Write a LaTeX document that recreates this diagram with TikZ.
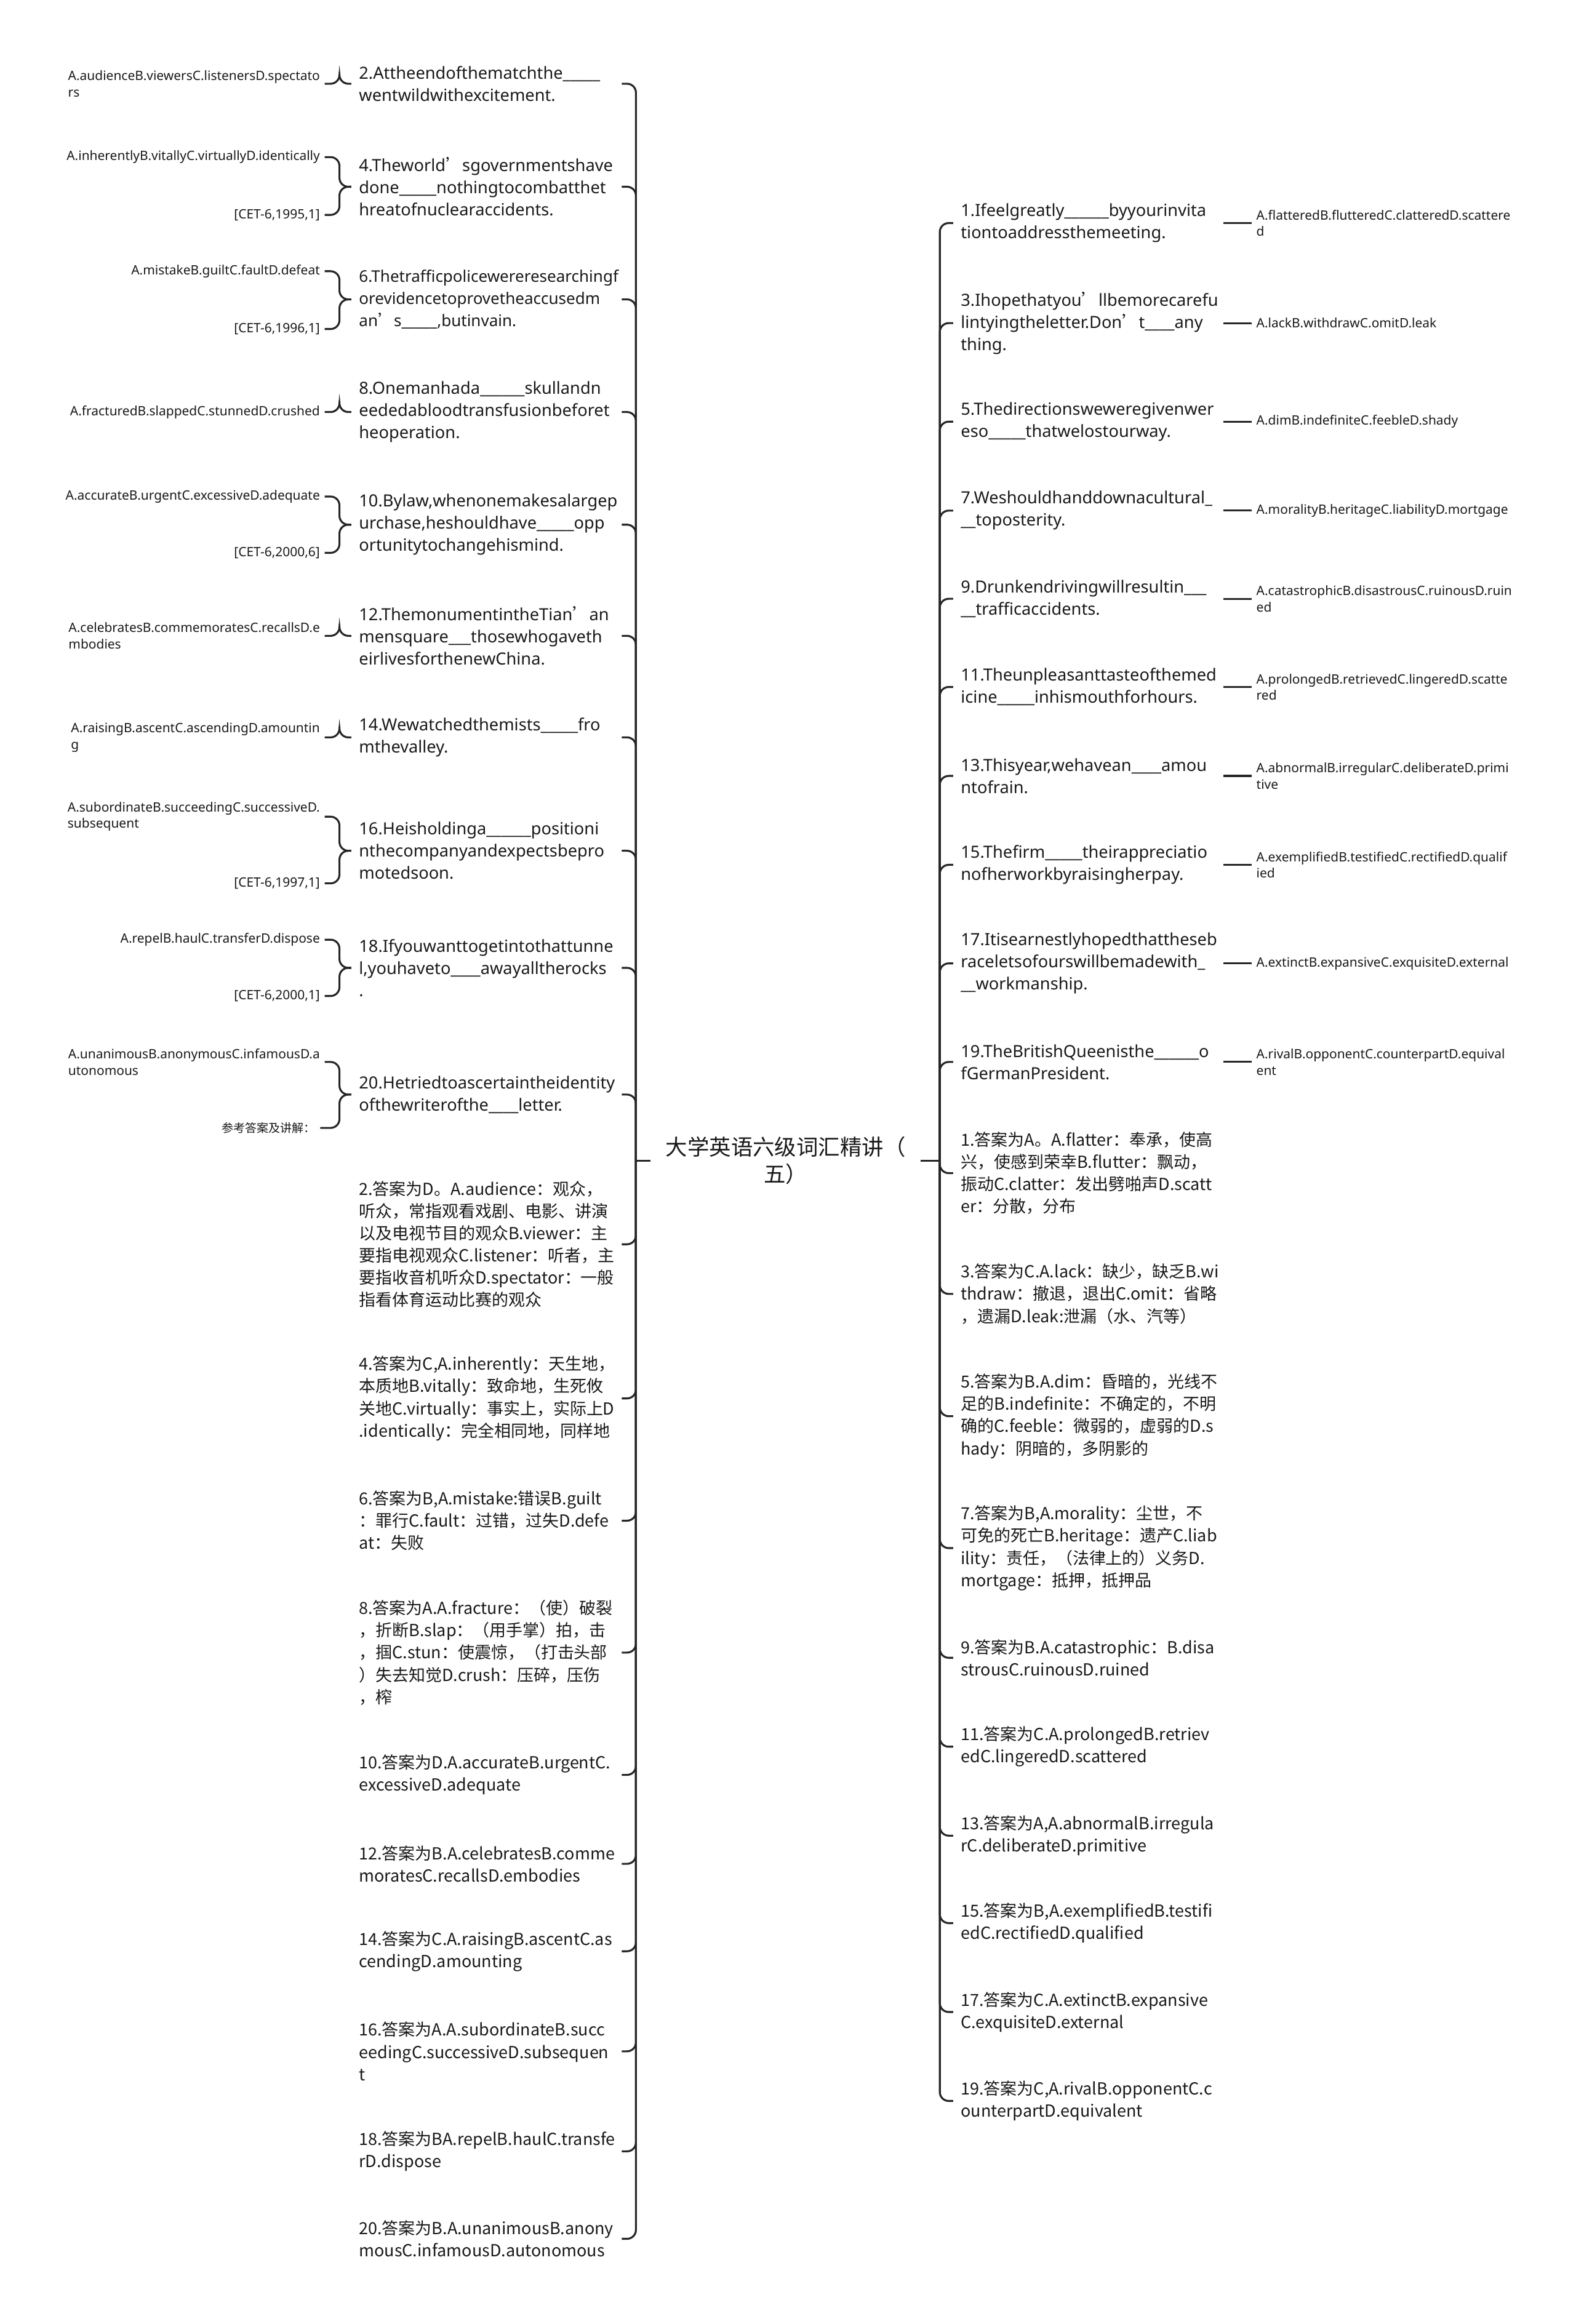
\documentclass[tikz,border=0pt]{standalone}
\usepackage{fontspec}
\setmainfont{Noto Sans CJK SC}
\newfontfamily\latinfont{Noto Sans}
\newfontfamily\cjkfont{Noto Sans CJK SC}
\usetikzlibrary{positioning}
\hyphenpenalty=10000
\exhyphenpenalty=10000
\newcommand\ap{{\cjkfont ’}}

\tikzset{
  branch/.style={draw=black!85, line width=1.3pt, rounded corners=6pt},
  ques/.style={anchor=west, inner xsep=5pt, inner ysep=1pt, text width=172pt, align=left, text=black!90, font=\latinfont\fontsize{11.3}{15}\selectfont},
  ans/.style={ques, font=\fontsize{11.2}{15}\selectfont},
  opt/.style={inner xsep=3pt, inner ysep=1pt, align=left, text=black!90, font=\latinfont\fontsize{8.7}{11}\selectfont},
  root/.style={inner xsep=10pt, align=center, text=black!90, font=\fontsize{14.7}{18.5}\selectfont},
}

\begin{document}
\begin{tikzpicture}[x=1pt, y=1pt]
      \fill [white] (0, 0) rectangle (1063, -1568);
      \useasboundingbox (0, 0) rectangle (1063, -1568);

      \node [root] (root) at (530, -783) {大学英语六级词汇精讲（\\五）};
      \coordinate (lt) at (429, -783);
      \coordinate (rt) at (634, -783);

      \node [ques] (q2) at (237, -56.5) {2.Attheendofthematchthe\_\_\_\_\_\\wentwildwithexcitement.};
      \node [ques] (q4) at (237, -126) {4.Theworld\ap sgovernmentshave\\done\_\_\_\_\_nothingtocombatthet\\hreatofnuclearaccidents.};
      \node [ques, font=\latinfont\fontsize{10.8}{15}\selectfont] (q6) at (237, -202) {6.Thetrafficpolicewereresearchingf\\orevidencetoprovetheaccusedm\\an\ap s\_\_\_\_\_,butinvain.};
      \node [ques] (q8) at (237, -278) {8.Onemanhada\_\_\_\_\_\_skullandn\\eededabloodtransfusionbeforet\\heoperation.};
      \node [ques] (q10) at (237, -354) {10.Bylaw,whenonemakesalargep\\urchase,heshouldhave\_\_\_\_\_opp\\ortunitytochangehismind.};
      \node [ques] (q12) at (237, -429) {12.ThemonumentintheTian\ap an\\mensquare\_\_\_thosewhogaveth\\eirlivesforthenewChina.};
      \node [ques] (q14) at (237, -497.5) {14.Wewatchedthemists\_\_\_\_\_fro\\mthevalley.};
      \node [ques] (q16) at (237, -574) {16.Heisholdinga\_\_\_\_\_\_positioni\\nthecompanyandexpectsbepro\\motedsoon.};
      \node [ques] (q18) at (237, -653) {18.Ifyouwanttogetintothattunne\\l,youhaveto\_\_\_\_awayalltherocks\\.};
      \node [ques] (q20) at (237, -738.5) {20.Hetriedtoascertaintheidentity\\ofthewriterofthe\_\_\_\_letter.};

      \node [opt, left=18pt of q2] (o2) {A.audienceB.viewersC.listenersD.spectato\\rs};
      \node [opt, anchor=east] (o4) at (219, -106) {A.inherentlyB.vitallyC.virtuallyD.identically};
      \node [opt, anchor=east] (c4) at (219, -145) {[CET-6,1995,1]};
      \node [opt, anchor=east] (o6) at (219, -183) {A.mistakeB.guiltC.faultD.defeat};
      \node [opt, anchor=east] (c6) at (219, -222) {[CET-6,1996,1]};
      \node [opt, left=18pt of q8] (o8) {A.fracturedB.slappedC.stunnedD.crushed};
      \node [opt, anchor=east] (o10) at (219, -335) {A.accurateB.urgentC.excessiveD.adequate};
      \node [opt, anchor=east] (c10) at (219, -373) {[CET-6,2000,6]};
      \node [opt, left=18pt of q12] (o12) {A.celebratesB.commemoratesC.recallsD.e\\mbodies};
      \node [opt, left=18pt of q14] (o14) {A.raisingB.ascentC.ascendingD.amountin\\g};
      \node [opt, anchor=east] (o16) at (219, -551) {A.subordinateB.succeedingC.successiveD.\\subsequent};
      \node [opt, anchor=east] (c16) at (219, -596) {[CET-6,1997,1]};
      \node [opt, anchor=east] (o18) at (219, -634) {A.repelB.haulC.transferD.dispose};
      \node [opt, anchor=east] (c18) at (219, -672) {[CET-6,2000,1]};
      \node [opt, anchor=east] (o20) at (219, -716.5) {A.unanimousB.anonymousC.infamousD.a\\utonomous};
      \node [opt, anchor=east, font=\fontsize{7.9}{11}\selectfont] (c20) at (216, -761) {参考答案及讲解：};

      \node [ans] (a2) at (237, -839.5) {2.答案为D。A.audience：观众，\\听众，常指观看戏剧、电影、讲演\\以及电视节目的观众B.viewer：主\\要指电视观众C.listener：听者，主\\要指收音机听众D.spectator：一般\\指看体育运动比赛的观众};
      \node [ans] (a4) at (237, -943.5) {4.答案为C,A.inherently：天生地，\\本质地B.vitally：致命地，生死攸\\关地C.virtually：事实上，实际上D\\.identically：完全相同地，同样地};
      \node [ans] (a6) at (237, -1026) {6.答案为B,A.mistake:错误B.guilt\\：罪行C.fault：过错，过失D.defe\\at：失败};
      \node [ans] (a8) at (237, -1115) {8.答案为A.A.fracture：（使）破裂\\，折断B.slap：（用手掌）拍，击\\，掴C.stun：使震惊，（打击头部\\）失去知觉D.crush：压碎，压伤\\，榨};
      \node [ans] (a10) at (237, -1197.5) {10.答案为D.A.accurateB.urgentC.\\excessiveD.adequate};
      \node [ans] (a12) at (237, -1257.5) {12.答案为B.A.celebratesB.comme\\moratesC.recallsD.embodies};
      \node [ans] (a14) at (237, -1316.5) {14.答案为C.A.raisingB.ascentC.as\\cendingD.amounting};
      \node [ans] (a16) at (237, -1384) {16.答案为A.A.subordinateB.succ\\eedingC.successiveD.subsequen\\t};
      \node [ans] (a18) at (237, -1451.5) {18.答案为BA.repelB.haulC.transfe\\rD.dispose};
      \node [ans] (a20) at (237, -1510.5) {20.答案为B.A.unanimousB.anony\\mousC.infamousD.autonomous};

      \node [ques] (r1) at (643, -150.5) {1.Ifeelgreatly\_\_\_\_\_\_byyourinvita\\tiontoaddressthemeeting.};
      \node [ques] (r3) at (643, -218) {3.Ihopethatyou\ap llbemorecarefu\\lintyingtheletter.Don\ap t\_\_\_\_any\\thing.};
      \node [ques] (r5) at (643, -284.5) {5.Thedirectionsweweregivenwer\\eso\_\_\_\_\_thatwelostourway.};
      \node [ques] (r7) at (643, -344.5) {7.Weshouldhanddownacultural\_\\\_\_toposterity.};
      \node [ques] (r9) at (643, -404) {9.Drunkendrivingwillresultin\_\_\_\\\_\_trafficaccidents.};
      \node [ques] (r11) at (643, -463.5) {11.Theunpleasanttasteofthemed\\icine\_\_\_\_\_inhismouthforhours.};
      \node [ques] (r13) at (643, -523.5) {13.Thisyear,wehavean\_\_\_\_amou\\ntofrain.};
      \node [ques] (r15) at (643, -583.5) {15.Thefirm\_\_\_\_\_theirappreciatio\\nofherworkbyraisingherpay.};
      \node [ques] (r17) at (643, -650) {17.Itisearnestlyhopedthattheseb\\raceletsofourswillbemadewith\_\\\_\_workmanship.};
      \node [ques] (r19) at (643, -716.5) {19.TheBritishQueenisthe\_\_\_\_\_\_o\\fGermanPresident.};

      \node [opt, right=19pt of r1] (p1) {A.flatteredB.flutteredC.clatteredD.scattere\\d};
      \node [opt, right=19pt of r3] (p3) {A.lackB.withdrawC.omitD.leak};
      \node [opt, right=19pt of r5] (p5) {A.dimB.indefiniteC.feebleD.shady};
      \node [opt, right=19pt of r7] (p7) {A.moralityB.heritageC.liabilityD.mortgage};
      \node [opt, right=19pt of r9] (p9) {A.catastrophicB.disastrousC.ruinousD.ruin\\ed};
      \node [opt, right=19pt of r11] (p11) {A.prolongedB.retrievedC.lingeredD.scatte\\red};
      \node [opt, right=19pt of r13] (p13) {A.abnormalB.irregularC.deliberateD.primi\\tive};
      \node [opt, right=19pt of r15] (p15) {A.exemplifiedB.testifiedC.rectifiedD.qualif\\ied};
      \node [opt, right=19pt of r17] (p17) {A.extinctB.expansiveC.exquisiteD.external};
      \node [opt, right=19pt of r19] (p19) {A.rivalB.opponentC.counterpartD.equival\\ent};

      \node [ans] (b1) at (643, -791.5) {1.答案为A。A.flatter：奉承，使高\\兴，使感到荣幸B.flutter：飘动，\\振动C.clatter：发出劈啪声D.scatt\\er：分散，分布};
      \node [ans] (b3) at (643, -873) {3.答案为C.A.lack：缺少，缺乏B.wi\\thdraw：撤退，退出C.omit：省略\\，遗漏D.leak:泄漏（水、汽等）};
      \node [ans] (b5) at (643, -955.5) {5.答案为B.A.dim：昏暗的，光线不\\足的B.indefinite：不确定的，不明\\确的C.feeble：微弱的，虚弱的D.s\\hady：阴暗的，多阴影的};
      \node [ans] (b7) at (643, -1044.5) {7.答案为B,A.morality：尘世，不\\可免的死亡B.heritage：遗产C.liab\\ility：责任，（法律上的）义务D.\\mortgage：抵押，抵押品};
      \node [ans] (b9) at (643, -1118.5) {9.答案为B.A.catastrophic：B.disa\\strousC.ruinousD.ruined};
      \node [ans] (b11) at (643, -1178.5) {11.答案为C.A.prolongedB.retriev\\edC.lingeredD.scattered};
      \node [ans] (b13) at (643, -1238.5) {13.答案为A,A.abnormalB.irregula\\rC.deliberateD.primitive};
      \node [ans] (b15) at (643, -1297.5) {15.答案为B,A.exemplifiedB.testifi\\edC.rectifiedD.qualified};
      \node [ans] (b17) at (643, -1357.5) {17.答案为C.A.extinctB.expansive\\C.exquisiteD.external};
      \node [ans] (b19) at (643, -1417.5) {19.答案为C,A.rivalB.opponentC.c\\ounterpartD.equivalent};

      \draw [branch] (root.west) -- (lt);
      \draw [branch] (root.east) -- (rt);
      \foreach \n in {q2,q4,q6,q8,q10,q12,q14,q16,q18,q20,a2,a4,a6,a8,a10,a12,a14,a16,a18,a20}
        \draw [branch] (lt) |- (\n.east);
      \foreach \n in {r1,r3,r5,r7,r9,r11,r13,r15,r17,r19,b1,b3,b5,b7,b9,b11,b13,b15,b17,b19}
        \draw [branch] (rt) |- (\n.west);
      \foreach \n in {2,4,6,8,10,12,14,16,18,20}
        \draw [branch] (q\n.west) -- ++(-8, 0) |- (o\n.east);
      \foreach \n in {4,6,10,16,18,20}
        \draw [branch] (q\n.west) -- ++(-8, 0) |- (c\n.east);
      \foreach \n in {1,3,5,7,9,11,13,15,17,19}
        \draw [branch] (r\n.east) -- (p\n.west);
    \end{tikzpicture}
\end{document}
